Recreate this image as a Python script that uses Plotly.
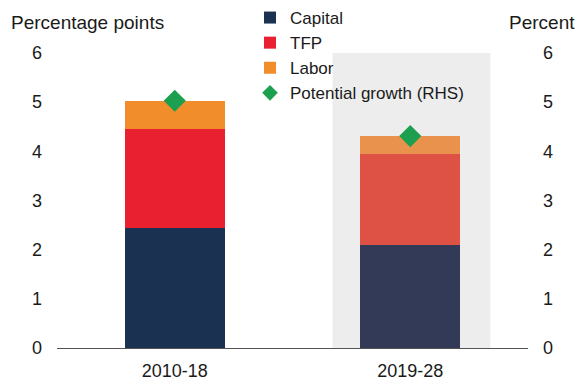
import plotly.graph_objects as go

# Contributions to potential growth, by period
periods = ["2010-18", "2019-28"]
capital = [2.45, 2.09]
tfp = [2.00, 1.85]
labor = [0.58, 0.37]
potential = [5.03, 4.31]

y_ticks = [0, 1, 2, 3, 4, 5, 6]

W, H = 578, 383
FONT = "Liberation Sans, Arial, sans-serif"
TXT = "#1a1a1a"

fig = go.Figure()

fig.add_trace(go.Bar(
    x=periods, y=capital, name="Capital",
    marker=dict(color=["#1a3151", "#323a58"], line=dict(width=0)),
))
fig.add_trace(go.Bar(
    x=periods, y=tfp, name="TFP",
    marker=dict(color=["#e8202f", "#dd5245"], line=dict(width=0)),
))
fig.add_trace(go.Bar(
    x=periods, y=labor, name="Labor",
    marker=dict(color=["#f28d2b", "#e8924d"], line=dict(width=0)),
))
fig.add_trace(go.Scatter(
    x=periods, y=potential, name="Potential growth (RHS)",
    mode="markers", yaxis="y2",
    marker=dict(symbol="diamond", size=17, color="#1ca04f", line=dict(width=0)),
))

# projection period shading
fig.add_shape(
    type="rect", xref="x", yref="y", x0=0.67, x1=1.34, y0=0, y1=6,
    fillcolor="#ededed", line=dict(width=0), layer="below",
)

x_dom = [57 / W, 528 / W]
y_dom = [(H - 348) / H, (H - 53) / H]

fig.update_layout(
    width=W, height=H,
    margin=dict(l=0, r=0, t=0, b=0, autoexpand=False),
    paper_bgcolor="white", plot_bgcolor="rgba(0,0,0,0)",
    barmode="stack", bargap=0.575,
    font=dict(family=FONT, size=18, color=TXT),
    showlegend=True,
    legend=dict(
        x=250 / W, y=1, xanchor="left", yanchor="top",
        bgcolor="rgba(0,0,0,0)", traceorder="normal",
        itemsizing="constant", font=dict(size=17, color=TXT),
        tracegroupgap=0,
    ),
    xaxis=dict(
        domain=x_dom, range=[-0.5, 1.5], type="category",
        showline=True, linecolor="#555555", linewidth=1,
        ticks="outside", ticklen=6, tickcolor="rgba(0,0,0,0)",
        showgrid=False, zeroline=False, fixedrange=True,
        tickfont=dict(size=18, color=TXT),
    ),
    yaxis=dict(
        domain=y_dom, range=[0, 6], anchor="free", position=42 / W,
        tickvals=y_ticks, showgrid=False, zeroline=False, showline=False,
        ticks="", tickfont=dict(size=18, color=TXT),
    ),
    yaxis2=dict(
        domain=y_dom, range=[0, 6], overlaying="y", side="right",
        anchor="free", position=542 / W,
        tickvals=y_ticks, showgrid=False, zeroline=False, showline=False,
        ticks="", tickfont=dict(size=18, color=TXT),
    ),
    annotations=[
        dict(text="Percentage points", xref="paper", yref="paper",
             x=9 / W, y=1 - 23 / H, xanchor="left", yanchor="middle",
             showarrow=False, font=dict(size=19, color=TXT)),
        dict(text="Percent", xref="paper", yref="paper",
             x=577 / W, y=1 - 23 / H, xanchor="right", yanchor="middle",
             showarrow=False, font=dict(size=19, color=TXT)),
    ],
)

fig.write_html("out.html")
